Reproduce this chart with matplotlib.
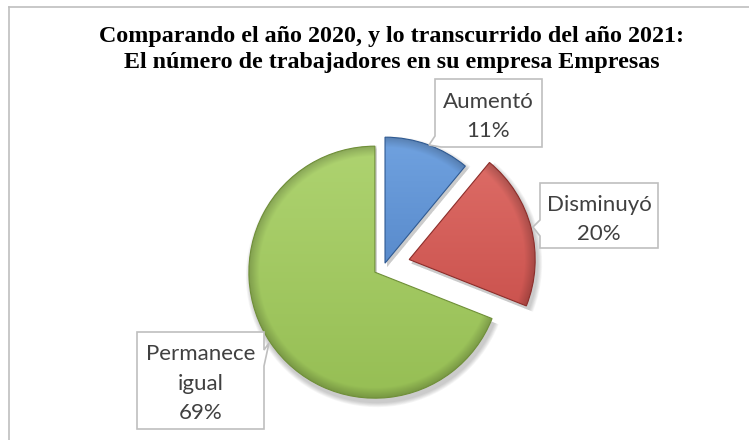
import numpy as np
import matplotlib
matplotlib.use("Agg")
import matplotlib.pyplot as plt
from matplotlib.patches import Polygon, Wedge
from matplotlib.lines import Line2D

# ---- data ----
categories = ["Aumentó", "Disminuyó", "Permanece\nigual"]
values = [11, 20, 69]
title_lines = ["Comparando el año 2020, y lo transcurrido del año 2021:",
               "El número de trabajadores en su empresa Empresas"]

W, H = 749, 440
fig = plt.figure(figsize=(W / 100, H / 100), dpi=100)
ax = fig.add_axes([0, 0, 1, 1])


def py(y):
    return H - y


center = (384, py(266))
R = 126
explode = [3, 26, 11]
top_cols = [(112, 162, 224), (224, 112, 106), (174, 211, 112)]
bot_cols = [(66, 116, 184), (194, 70, 66), (150, 190, 84)]
edge_cols = ["#2f5a92", "#8c2d2a", "#6f8f38"]

wedges, _ = ax.pie(values, explode=explode, radius=R, center=center,
                   startangle=90, counterclock=False)

for i, w in enumerate(wedges):
    cx, cy = w.center
    r = w.r
    # soft shadow
    for k in range(6):
        sh = Wedge((cx + 2, cy - 4), r + 1 + k * 0.8, w.theta1, w.theta2,
                   facecolor="black", alpha=0.035, edgecolor="none", zorder=0.5)
        ax.add_patch(sh)
    n = 300
    xs = np.linspace(cx - r, cx + r, n)
    ys = np.linspace(cy - r, cy + r, n)
    X, Y = np.meshgrid(xs, ys)
    t = (Y - (cy - r)) / (2 * r)
    ct = np.array(top_cols[i]) / 255.0
    cb = np.array(bot_cols[i]) / 255.0
    col = cb + (ct - cb) * t[..., None]
    d = np.hypot(X - cx, Y - cy) / r
    edge = np.clip((d - 0.92) / 0.08, 0, 1)
    col = col * (1 - 0.2 * edge[..., None])
    col = np.clip(col, 0, 1)
    im = ax.imshow(col, extent=(cx - r, cx + r, cy - r, cy + r), origin="lower",
                   zorder=2, interpolation="bilinear")
    im.set_clip_path(w)
    w.set_facecolor("none")
    w.set_edgecolor(edge_cols[i])
    w.set_linewidth(0.8)
    w.set_zorder(3)

# ---- callout labels ----
label_font = dict(family=["Lato", "DejaVu Sans"], fontsize=16, color="#404040")
callouts = [
    dict(box=(435, 79, 542, 147), tail=[(435, 136), (429, 145), (441, 147)],
         side="leftbottom", base=[108, 137]),
    dict(box=(540, 183, 658, 248), tail=[(540, 220), (533, 227), (540, 236)],
         side="left", base=[211, 240]),
    dict(box=(137, 332, 264, 429), tail=[(264, 366), (269, 343), (264, 350)],
         side="right", base=[360, 390, 419]),
]

for i, c in enumerate(callouts):
    x0, y0, x1, y1 = c["box"]
    tl = c["tail"]
    if c["side"] == "leftbottom":
        pts = [(x0, y0), (x1, y0), (x1, y1), tl[2], tl[1], tl[0]]
    elif c["side"] == "left":
        pts = [(x0, y0), (x1, y0), (x1, y1), (x0, y1), tl[2], tl[1], tl[0]]
    else:  # right
        pts = [(x0, y0), (x1, y0), tl[2], tl[1], tl[0], (x1, y1), (x0, y1)]
    poly = Polygon([(x, py(y)) for x, y in pts], closed=True, facecolor="white",
                   edgecolor="#bfbfbf", linewidth=1.2, zorder=5)
    ax.add_patch(poly)
    lines = categories[i].split("\n") + [f"{values[i]}%"]
    xc = (x0 + x1) / 2
    for line, b in zip(lines, c["base"]):
        ax.text(xc, py(b), line, ha="center", va="baseline", zorder=6, **label_font)

# ---- title ----
for line, b in zip(title_lines, [42, 67.5]):
    ax.text(391.5, py(b), line, ha="center", va="baseline", fontsize=17.25,
            fontweight="bold", family=["Liberation Serif", "DejaVu Serif"],
            color="black", zorder=6)

# ---- chart border (top & left visible) ----
ax.add_line(Line2D([9, W], [py(7), py(7)], color="#bfbfbf", lw=1.2, zorder=7))
ax.add_line(Line2D([9, 9], [py(7), 0], color="#bfbfbf", lw=1.2, zorder=7))

ax.set_xlim(0, W)
ax.set_ylim(0, H)
ax.set_aspect("auto")
ax.axis("off")

fig.savefig("out.png", dpi=100)
